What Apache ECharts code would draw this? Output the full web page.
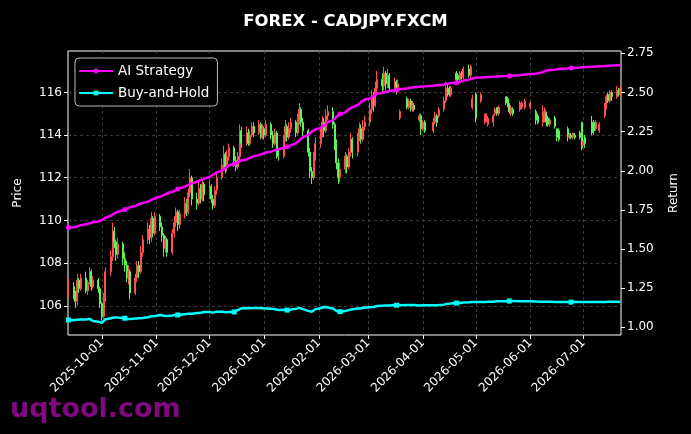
<!DOCTYPE html>
<html><head><meta charset="utf-8">
<script src="https://cdn.jsdelivr.net/npm/echarts@6/dist/echarts.min.js"></script>
<style>html,body{margin:0;padding:0;background:#000}#c{width:691px;height:434px}</style>
</head><body><div id="c"></div>
<script>
const startDate = '2025-09-12';
const endDate = '2026-07-22';
const missingDays = ['2026-04-03','2026-04-06','2026-05-25','2026-06-02','2026-06-03'];
const monthTicks = ['2025-10-01','2025-11-01','2025-12-01','2026-01-01','2026-02-01','2026-03-01','2026-04-01','2026-05-01','2026-06-01','2026-07-01'];
const priceTicks = [106,108,110,112,114,116];
const returnTicks = [1.00,1.25,1.50,1.75,2.00,2.25,2.50,2.75];

// [open, close, low, high]; null = no bar that day
const ohlc = [
[106.6,106.9,106.4,107.3],
[106.9,106.5,106.3,107.1],[106.5,106.2,105.9,106.7],[106.2,107.2,106.0,107.5],[107.2,106.8,106.6,107.3],[106.8,107.3,106.7,107.5],
[107.3,106.7,106.6,107.6],[106.7,107.1,106.5,107.2],[107.1,107.6,107.0,107.8],[107.6,106.9,106.7,107.7],[106.9,107.2,106.8,107.4],
[107.2,106.8,106.6,107.3],[106.8,106.1,105.9,106.9],[106.1,105.5,105.3,106.2],[105.5,106.4,105.4,106.6],[106.4,107.6,106.2,107.8],
[107.6,108.3,107.4,108.6],[108.3,109.5,108.1,109.9],[109.5,109.0,108.7,109.7],[109.0,108.4,108.1,109.1],[108.4,108.9,108.2,109.2],
[108.9,108.2,107.9,109.0],[108.2,107.9,107.6,108.5],[107.9,107.3,107.1,108.1],[107.3,107.6,107.0,107.9],[107.6,106.6,106.3,107.7],
[106.6,107.3,106.5,107.5],[107.3,107.9,107.1,108.1],[107.9,107.6,107.3,108.1],[107.6,108.5,107.5,108.8],[108.5,109.1,108.3,109.3],
[109.1,109.6,108.9,109.9],[109.6,109.2,108.9,109.8],[109.2,110.1,109.0,110.4],[110.1,109.4,109.2,110.2],[109.4,110.2,109.3,110.4],
[110.2,109.7,109.5,110.3],[109.7,109.3,109.0,109.9],[109.3,108.7,108.3,109.4],[108.7,109.1,108.5,109.3],[109.1,108.5,108.3,109.2],
[108.5,109.4,108.4,109.6],[109.4,109.9,109.2,110.2],[109.9,110.4,109.7,110.6],[110.4,109.8,109.5,110.5],[109.8,110.3,109.6,110.5],
[110.3,110.8,110.1,111.1],[110.8,110.4,110.2,111.0],[110.4,111.3,110.3,111.5],[111.3,112.0,111.1,112.4],[112.0,111.0,110.7,112.1],
[111.0,110.8,110.5,111.3],[110.8,111.5,110.7,111.8],[111.5,111.0,110.8,111.7],[111.0,111.7,110.9,111.9],[111.7,111.2,110.9,111.8],
[111.2,111.6,111.0,111.9],[111.6,111.0,110.8,111.7],[111.0,110.7,110.5,111.2],[110.7,111.4,110.6,111.6],[111.4,112.0,111.2,112.2],
[112.0,112.6,111.9,112.9],[112.6,113.1,112.4,113.5],[113.1,112.5,112.2,113.2],[112.5,113.0,112.3,113.3],[113.0,113.4,112.8,113.6],
[113.4,112.8,112.5,113.5],[112.8,112.5,112.3,113.0],[112.5,113.0,112.4,113.2],[113.0,114.2,112.7,114.5],[114.2,113.6,113.4,114.4],
[113.6,114.1,113.5,114.4],[114.1,113.6,113.5,114.3],[113.6,114.0,113.5,114.2],[114.0,114.4,113.9,114.6],[114.4,114.1,113.9,114.6],
[114.1,114.5,114.0,114.7],[114.5,113.9,113.8,114.6],[113.9,114.3,113.8,114.5],[114.3,114.0,113.8,114.4],[114.0,114.5,113.9,114.7],
[114.5,114.0,113.8,114.6],[114.0,113.6,113.4,114.2],[113.6,114.1,113.5,114.3],[114.1,113.2,112.9,114.2],[113.2,113.0,112.8,113.4],
[113.0,113.8,112.9,114.0],[113.8,114.4,113.7,114.7],[114.4,113.9,113.7,114.5],[113.9,114.3,113.8,114.6],[114.3,114.6,114.1,114.8],
[114.6,114.1,113.9,114.7],[114.1,114.7,114.0,115.0],[114.7,115.2,114.5,115.5],[115.2,114.6,114.4,115.3],[114.6,114.2,113.9,114.8],
[114.2,113.2,113.0,114.3],[113.2,112.3,112.0,113.4],[112.3,112.0,111.7,112.5],[112.0,113.0,111.9,113.2],[113.0,113.6,112.8,113.9],
[113.6,114.1,113.4,114.4],[114.1,114.6,113.9,114.9],[114.6,114.2,113.9,114.8],[114.2,114.9,114.1,115.2],[114.9,115.1,114.7,115.4],
[115.1,114.5,114.3,115.3],[114.5,113.6,113.3,114.6],[113.6,112.7,112.4,113.8],[112.7,112.0,111.7,112.9],[112.0,112.4,111.8,112.7],
[112.4,113.0,112.2,113.2],[113.0,112.5,112.2,113.1],[112.5,113.2,112.4,113.4],[113.2,113.8,113.0,114.1],[113.8,113.2,112.9,113.9],
[113.2,113.9,113.0,114.1],[113.9,114.3,113.7,114.6],[114.3,113.8,113.6,114.5],[113.8,114.4,113.7,114.7],[114.4,114.6,114.2,114.9],
[114.6,115.2,114.4,115.5],[115.2,115.8,115.0,116.1],[115.8,115.4,115.1,116.0],[115.4,116.2,115.3,116.5],[116.2,116.6,115.9,117.0],
[116.6,116.3,116.0,116.9],[116.3,116.9,116.1,117.2],[116.9,116.4,116.1,117.0],[116.4,116.8,116.2,117.1],[116.8,116.2,116.0,116.9],
[116.2,116.5,116.0,116.7],[116.5,116.1,115.9,116.6],[116.1,116.4,116.0,116.6],[114.8,115.1,114.7,115.2],null,
[115.7,115.3,115.2,115.8],[115.3,115.6,115.2,115.7],[115.6,115.2,115.1,115.7],[115.2,115.4,115.1,115.6],[115.4,115.2,115.1,115.5],
[114.7,114.9,114.6,115.0],[114.9,114.3,114.0,115.0],[114.3,114.6,114.2,114.7],[114.6,114.2,114.1,114.7],
[114.2,114.6,114.1,114.8],[114.6,114.9,114.5,115.1],[114.9,114.6,114.4,115.0],[114.9,115.2,114.8,115.3],
[115.2,115.6,115.1,115.8],[115.6,116.2,115.5,116.5],[116.2,116.0,115.8,116.4],[116.0,115.9,115.8,116.3],[115.9,116.2,115.8,116.3],
[116.9,116.6,116.5,117.0],[116.8,116.6,116.5,116.9],[116.6,116.9,116.5,117.0],[116.9,116.7,116.6,117.0],[116.7,117.1,116.6,117.2],
[117.1,116.8,116.7,117.3],[116.8,117.2,116.7,117.3],[115.3,115.7,115.2,115.9],null,[115.9,114.8,114.6,116.0],
[115.6,115.9,115.5,116.0],null,[114.6,114.9,114.5,115.0],[114.7,115.0,114.6,115.0],[114.5,114.8,114.4,114.9],
[114.6,114.9,114.4,115.0],[115.0,115.2,114.9,115.3],[115.3,115.0,114.9,115.3],[115.0,115.3,114.9,115.4],null,
[115.8,115.5,115.4,115.8],[115.7,115.4,115.3,115.8],[115.4,115.1,115.0,115.5],[115.0,115.3,114.9,115.4],[115.2,115.0,114.9,115.3],
[115.2,115.5,115.1,115.6],[115.3,115.5,115.2,115.6],null,[115.3,115.6,115.2,115.7],
[115.3,115.5,115.2,115.6],[115.1,114.7,114.5,115.2],[114.9,114.6,114.5,115.0],
[114.6,115.1,114.4,115.4],[114.8,115.2,114.6,115.3],[115.0,114.6,114.4,115.1],[114.8,114.5,114.4,114.9],[114.5,114.7,114.4,114.8],
[114.8,114.4,114.3,114.9],[114.3,113.9,113.7,114.3],[114.2,113.8,113.7,114.3],null,null,
[114.3,113.9,113.7,114.4],[113.9,114.0,113.8,114.1],[114.0,113.9,113.8,114.1],[113.9,114.1,113.8,114.1],[114.0,113.9,113.8,114.1],
[114.1,113.9,113.8,114.2],[114.6,113.4,113.3,114.6],[113.5,113.7,113.5,113.8],[113.9,113.6,113.4,114.0],null,
[114.6,114.1,114.0,114.9],[114.6,114.2,114.0,114.7],[114.3,114.6,114.2,114.7],null,[114.2,114.5,114.1,114.6],
[114.9,115.4,114.8,115.5],[115.3,115.8,115.2,115.9],[115.9,115.6,115.5,116.0],[115.6,116.0,115.5,116.1],[116.0,115.8,115.6,116.1],
[115.8,116.1,115.7,116.3],[116.1,115.9,115.8,116.2],[115.9,116.2,115.8,116.3]
];

const aiStrategy = [
1.637,
1.640,1.643,1.645,1.650,1.652, 1.658,1.662,1.665,1.668,1.671, 1.676,1.680,1.685,1.690,1.700,
1.712,1.722,1.728,1.733,1.738, 1.748,1.752,1.757,1.760,1.768, 1.775,1.780,1.786,1.790,1.795,
1.802,1.808,1.815,1.818,1.824, 1.834,1.840,1.845,1.850,1.856, 1.866,1.872,1.876,1.883,1.888,
1.898,1.905,1.910,1.915,1.920, 1.930,1.937,1.942,1.945,1.950, 1.960,1.968,1.975,1.982,1.990,
2.000,2.010,2.018,2.027,2.035, 2.043,2.050,2.055,2.060,2.066, 2.072,2.078,2.083,2.088,2.092,
2.100,2.105,2.108,2.112,2.117, 2.122,2.126,2.130,2.134,2.138, 2.145,2.150,2.154,2.158,2.162,
2.175,2.186,2.195,2.205,2.215, 2.228,2.240,2.250,2.258,2.264, 2.274,2.283,2.290,2.300,2.310,
2.324,2.335,2.345,2.355,2.362, 2.372,2.385,2.392,2.400,2.408, 2.420,2.430,2.440,2.448,2.455,
2.462,2.470,2.478,2.485,2.492, 2.498,2.502,2.505,2.508,2.510, 2.514,2.516,2.518,2.520,2.522,
2.525,2.527,2.530,2.532,2.534, 2.536,2.538,2.539,2.541, 2.543,2.545,2.546,2.548,
2.550,2.553,2.556,2.558,2.560, 2.562,2.565,2.568,2.572,2.576, 2.582,2.586,2.590,2.592,2.594,
2.595,2.596,2.597,2.598,2.599, 2.600,2.601,2.602,2.603,2.604, 2.605,2.606,2.606,2.607,2.608,
2.610,2.612,2.614,2.616, 2.618,2.620,2.622,
2.630,2.637,2.640,2.642,2.644, 2.646,2.648,2.650,2.651,2.652, 2.654,2.655,2.656,2.657,2.658,
2.659,2.660,2.661,2.662,2.663, 2.664,2.665,2.666,2.667,2.668, 2.669,2.670,2.671,2.672,2.673,
2.674,2.675,2.676
];

const buyHold = [
1.047,
1.046,1.044,1.049,1.047,1.050, 1.050,1.052,1.054,1.045,1.040, 1.036,1.032,1.028,1.040,1.052,
1.058,1.066,1.063,1.060,1.062, 1.059,1.058,1.055,1.057,1.053, 1.056,1.059,1.058,1.061,1.059,
1.064,1.066,1.070,1.068,1.072, 1.079,1.077,1.074,1.076,1.073, 1.076,1.078,1.080,1.079,1.081,
1.084,1.082,1.086,1.090,1.087, 1.091,1.095,1.093,1.097,1.098, 1.098,1.095,1.094,1.097,1.099,
1.100,1.099,1.097,1.100,1.098, 1.098,1.104,1.110,1.118,1.121, 1.123,1.120,1.122,1.124,1.123,
1.123,1.120,1.122,1.119,1.121, 1.118,1.115,1.117,1.112,1.110, 1.112,1.114,1.110,1.111,1.113,
1.118,1.121,1.124,1.120,1.116, 1.105,1.098,1.100,1.108,1.115, 1.122,1.127,1.130,1.128,1.126,
1.120,1.112,1.104,1.098,1.100, 1.104,1.106,1.110,1.112,1.115, 1.120,1.123,1.121,1.125,1.127,
1.129,1.131,1.130,1.133,1.136, 1.138,1.140,1.139,1.141,1.140, 1.142,1.141,1.143,1.140,1.141,
1.142,1.143,1.142,1.141,1.142, 1.140,1.139,1.141,1.140, 1.141,1.142,1.141,1.143,
1.145,1.148,1.151,1.150,1.152, 1.155,1.154,1.156,1.158,1.159, 1.160,1.162,1.161,1.162,1.161,
1.162,1.163,1.162,1.164,1.163, 1.164,1.165,1.166,1.165,1.166, 1.167,1.168,1.168,1.167,1.168,
1.167,1.168,1.167,1.166, 1.166,1.165,1.165,
1.164,1.164,1.163,1.163,1.163, 1.162,1.162,1.161,1.161,1.162, 1.162,1.161,1.161,1.162,1.162,
1.161,1.160,1.161,1.161,1.162, 1.162,1.162,1.162,1.163,1.162, 1.162,1.163,1.163,1.163,1.163,
1.163,1.163,1.163
];

const DAY = 86400000;
const ts = iso => Date.parse(iso + 'T00:00:00Z');
function tradingDays(s, e, skip) {
  const out = [];
  let t = ts(s);
  const end = ts(e);
  while (t <= end) {
    const d = new Date(t);
    const wd = d.getUTCDay();
    const iso = d.toISOString().slice(0, 10);
    if (wd !== 0 && wd !== 6 && skip.indexOf(iso) < 0) out.push(t);
    t += DAY;
  }
  return out;
}
const dates = tradingDays(startDate, endDate, missingDays);

const candleData = [];
dates.forEach((t, i) => { if (ohlc[i]) candleData.push([t].concat(ohlc[i])); });
const aiData = dates.map((t, i) => [t, aiStrategy[i]]);
const bhData = dates.map((t, i) => [t, buyHold[i]]);
const monthTickTs = monthTicks.map(ts);

const FONT = '"DejaVu Sans", sans-serif';
const UP = '#ff4f4f', DOWN = '#5cf25c';
const pad = n => (n < 10 ? '0' : '') + n;
const fmtDate = v => { const d = new Date(v); return d.getUTCFullYear() + '-' + pad(d.getUTCMonth() + 1) + '-' + pad(d.getUTCDate()); };
const gridLine = { show: true, lineStyle: { color: '#4a4a4a', type: [3, 3], width: 0.8 } };
const markerEvery = 22;

const chart = echarts.init(document.getElementById('c'), null, { renderer: 'canvas' });
chart.setOption({
  backgroundColor: '#000',
  animation: false,
  textStyle: { fontFamily: FONT },
  title: {
    text: 'FOREX - CADJPY.FXCM', left: 'center', top: 8,
    textStyle: { color: '#fff', fontSize: 16.5, fontWeight: 'bold', fontFamily: FONT }
  },
  legend: {
    data: ['AI Strategy', 'Buy-and-Hold'], orient: 'vertical', left: 75, top: 58,
    backgroundColor: '#000', borderColor: '#bbbbbb', borderWidth: 1, borderRadius: 4,
    padding: [6, 8, 6, 3], itemGap: 8, itemWidth: 34, itemHeight: 6,
    textStyle: { color: '#fff', fontSize: 13.5, fontFamily: FONT }
  },
  grid: { left: 68, right: 70, top: 51, bottom: 99, show: true, borderColor: '#ffffff', borderWidth: 1, outerBoundsMode: 'none', containLabel: false },
  xAxis: {
    type: 'value', min: ts('2025-09-11') + 0.75 * DAY, max: ts('2026-07-22') + 0.33 * DAY,
    scale: true,
    axisLine: { show: false },
    axisTick: { show: true, customValues: monthTickTs, length: 4, lineStyle: { color: '#fff' } },
    axisLabel: { customValues: monthTickTs, formatter: fmtDate, rotate: 45, color: '#fff', fontSize: 12, margin: 6, fontFamily: FONT },
    splitLine: gridLine
  },
  yAxis: [
    {
      type: 'value', position: 'left', min: 104.63, max: 117.94,
      name: 'Price', nameLocation: 'middle', nameGap: 44,
      nameTextStyle: { color: '#fff', fontSize: 12, fontFamily: FONT },
      axisLine: { show: false },
      axisTick: { show: true, customValues: priceTicks, length: 4, lineStyle: { color: '#fff' } },
      axisLabel: { customValues: priceTicks, color: '#fff', fontSize: 12, margin: 6, fontFamily: FONT },
      splitLine: gridLine
    },
    {
      type: 'value', position: 'right', min: 0.951, max: 2.765,
      name: 'Return', nameLocation: 'middle', nameGap: 47,
      nameTextStyle: { color: '#fff', fontSize: 12, fontFamily: FONT },
      axisLine: { show: false },
      axisTick: { show: true, customValues: returnTicks, length: 4, lineStyle: { color: '#fff' } },
      axisLabel: { customValues: returnTicks, formatter: v => v.toFixed(2), color: '#fff', fontSize: 12, margin: 6, fontFamily: FONT },
      splitLine: { show: false }
    }
  ],
  graphic: [{
    type: 'text', left: 10, top: 396, z: -1,
    style: { text: 'uqtool.com', fill: 'rgba(135,10,135,0.95)', font: 'bold 27px "DejaVu Sans", sans-serif' }
  }],
  series: [
    {
      type: 'candlestick', name: 'CADJPY', xAxisIndex: 0, yAxisIndex: 0, data: candleData,
      barWidth: 1.5, z: 2,
      itemStyle: { color: UP, color0: DOWN, borderColor: UP, borderColor0: DOWN, borderWidth: 1 }
    },
    {
      type: 'line', name: 'AI Strategy', xAxisIndex: 0, yAxisIndex: 1, data: aiData, z: 5,
      symbol: 'circle', showSymbol: true, showAllSymbol: true,
      symbolSize: (v, p) => (p.dataIndex % markerEvery === 0 ? 5 : 0),
      lineStyle: { color: '#ff00ff', width: 2.5 }, itemStyle: { color: '#ff00ff' }
    },
    {
      type: 'line', name: 'Buy-and-Hold', xAxisIndex: 0, yAxisIndex: 1, data: bhData, z: 5,
      symbol: 'rect', showSymbol: true, showAllSymbol: true,
      symbolSize: (v, p) => (p.dataIndex % markerEvery === 0 ? 5 : 0),
      lineStyle: { color: '#00ffff', width: 2.5 }, itemStyle: { color: '#00ffff' }
    }
  ]
});
</script>
</body></html>
